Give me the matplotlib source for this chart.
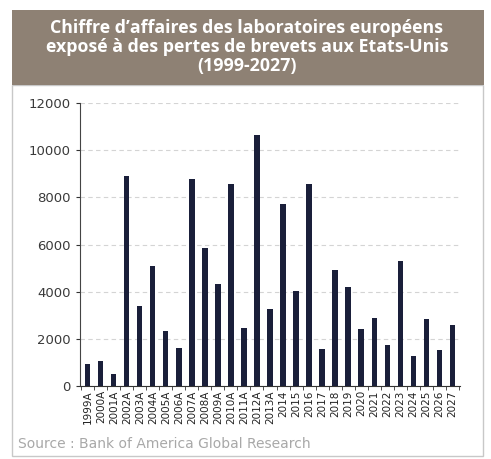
import numpy as np
import matplotlib.pyplot as plt
from matplotlib.patches import Rectangle

years = ['1999A', '2000A', '2001A', '2002A', '2003A', '2004A', '2005A', '2006A', '2007A',
         '2008A', '2009A', '2010A', '2011A', '2012A', '2013A', '2014', '2015', '2016',
         '2017', '2018', '2019', '2020', '2021', '2022', '2023', '2024', '2025', '2026', '2027']
values = [920, 1080, 500, 8900, 3400, 5090, 2330, 1620, 8760,
          5860, 4340, 8550, 2440, 10650, 3270, 7700, 4040, 8550,
          1550, 4920, 4180, 2430, 2870, 1750, 5280, 1290, 2820, 1520, 2590]

title = "Chiffre d\u2019affaires des laboratoires européens\nexposé à des pertes de brevets aux Etats-Unis\n(1999-2027)"
source = "Source : Bank of America Global Research"

fig = plt.figure(figsize=(4.91, 4.59), dpi=100)
W, H = 491, 459

# panel frame and title band (behind the axes)
fig.patches.append(Rectangle((12 / W, 3 / H), 471 / W, 371 / H, transform=fig.transFigure,
                             facecolor='white', edgecolor='#c8c8c8', lw=1, zorder=-2))
fig.patches.append(Rectangle((12 / W, 374 / H), 472 / W, 75 / H, transform=fig.transFigure,
                             facecolor='#8e8174', edgecolor='none', zorder=-1))
fig.text(247 / W, 412 / H, title, ha='center', va='center', color='white',
         fontsize=12.8, fontweight='bold', family='Open Sans', linespacing=1.1)

ax = fig.add_axes([80 / W, 73 / H, 380 / W, 283 / H])
ax.patch.set_alpha(0)
x = np.arange(len(years))
ax.bar(x, values, width=0.4, color='#1a1f3a', zorder=3)
ax.set_xlim(-0.6, len(years) - 0.4)
ax.set_ylim(0, 12000)
ax.set_yticks(range(0, 12001, 2000))
ax.yaxis.grid(True, linestyle=(0, (4, 3)), color='#d4d4d4', lw=0.8, zorder=0)
ax.set_xticks(x)
ax.set_xticklabels(years, rotation=90, fontsize=7.5, color='#222222')
ax.set_xticks(np.arange(-0.5, len(years), 1), minor=True)
ax.tick_params(axis='x', which='major', length=0, pad=3)
ax.tick_params(axis='x', which='minor', length=3, color='#333333')
ax.tick_params(axis='y', labelsize=9.5, labelcolor='#3a3a3a', length=3, color='#333333')
for s in ['top', 'right']:
    ax.spines[s].set_visible(False)
ax.spines['left'].set_color('#444444')
ax.spines['bottom'].set_color('#333333')

fig.text(18 / W, 15 / H, source, ha='left', va='center', color='#a8a8a8', fontsize=10)

plt.savefig('out.png', dpi=100)
